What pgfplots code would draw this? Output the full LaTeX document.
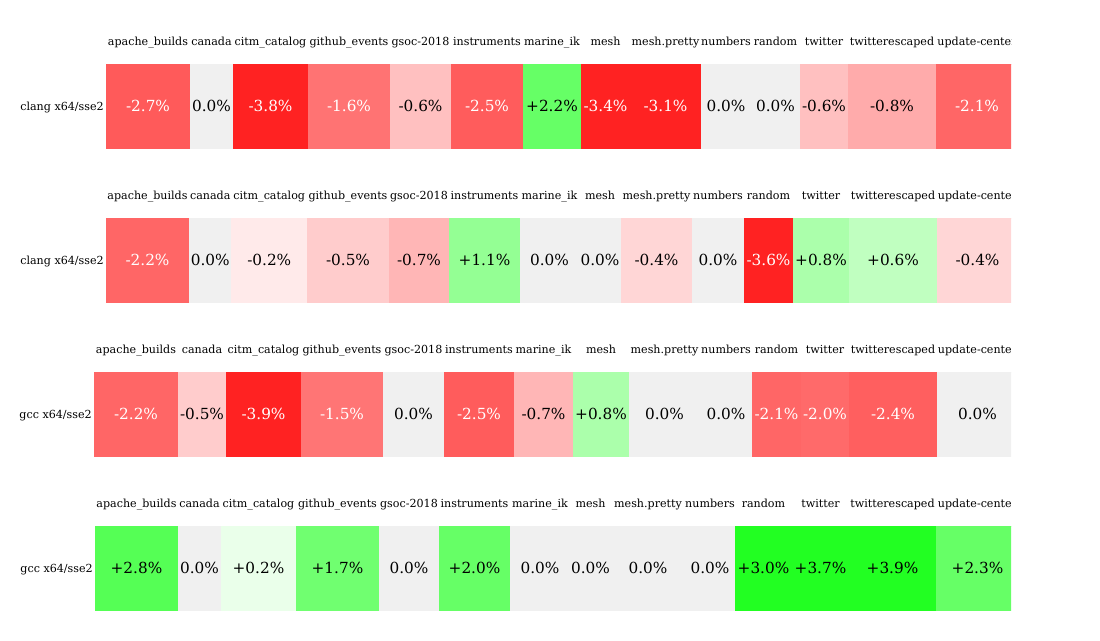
\documentclass[border=0pt]{standalone}
\usepackage{fontspec}
\setmainfont{DejaVu Serif}
\usepackage{pgfplots}
\pgfplotsset{compat=1.18}
\usetikzlibrary{calc}

% one cell: x0, x1, name, value, fill colour, text colour
\newcommand{\cell}[6]{%
  \addplot[fill={#5}, draw={#5}, line width=0.4pt] coordinates {(#1,64) (#2,64) (#2,148) (#1,148)} -- cycle;
  \node[lbl, anchor=base] at ($(axis cs:#1,45)!0.5!(axis cs:#2,45)$) {#3};
  \node[val, anchor=base, text=#6] at ($(axis cs:#1,111)!0.5!(axis cs:#2,111)$) {#4\%};
}
\newcommand{\rw}[5]{\cell{#1}{#2}{#3}{#4}{rgb,255:red,255;green,#5;blue,#5}{white}}
\newcommand{\rb}[5]{\cell{#1}{#2}{#3}{#4}{rgb,255:red,255;green,#5;blue,#5}{black}}
\newcommand{\gb}[5]{\cell{#1}{#2}{#3}{#4}{rgb,255:red,#5;green,255;blue,#5}{black}}
\newcommand{\zc}[4]{\cell{#1}{#2}{#3}{#4}{rgb,255:red,240;green,240;blue,240}{black}}

\pgfplotsset{
  heatrow/.style={scale only axis, width=792pt, height=110.88pt,
    xmin=0, xmax=1100, ymin=0, ymax=154, y dir=reverse,
    hide axis, anchor=north west, clip=true},
}
\tikzset{
  lbl/.style={font=\fontsize{8}{10}\selectfont, inner sep=0pt},
  val/.style={font=\fontsize{11}{13}\selectfont, inner sep=0pt},
}

\begin{document}
\begin{tikzpicture}
\path (0,0) rectangle (792pt,-460.8pt);
\begin{scope}
% the table is cut off at its right edge, as in the original
\clip (0,0) rectangle (727.92pt,-460.8pt);

\begin{axis}[heatrow, at={(0pt,0pt)}]
\node[lbl, anchor=base east] at (axis cs:104,110) {clang x64/sse2};
\rw{106}{190}{apache\_builds}{-2.7}{90}
\zc{190}{233}{canada}{0.0}
\rw{233}{308}{citm\_catalog}{-3.8}{34}
\rw{308}{390}{github\_events}{-1.6}{115}
\rb{390}{451}{gsoc-2018}{-0.6}{192}
\rw{451}{523}{instruments}{-2.5}{92}
\gb{523}{581}{marine\_ik}{+2.2}{102}
\rw{581}{630}{mesh}{-3.4}{34}
\rw{630}{701}{mesh.pretty}{-3.1}{34}
\zc{701}{751}{numbers}{0.0}
\zc{751}{800}{random}{0.0}
\rb{800}{848}{twitter}{-0.6}{192}
\rb{848}{936}{twitterescaped}{-0.8}{171}
\rw{936}{1018}{update-center}{-2.1}{102}
\end{axis}

\begin{axis}[heatrow, at={(0pt,-110.88pt)}]
\node[lbl, anchor=base east] at (axis cs:104,110) {clang x64/sse2};
\rw{106}{189}{apache\_builds}{-2.2}{102}
\zc{189}{231.5}{canada}{0.0}
\rb{231.5}{307}{citm\_catalog}{-0.2}{234}
\rb{307}{389}{github\_events}{-0.5}{204}
\rb{389}{449}{gsoc-2018}{-0.7}{182}
\gb{449}{520}{instruments}{+1.1}{148}
\zc{520}{579}{marine\_ik}{0.0}
\zc{579}{621}{mesh}{0.0}
\rb{621}{692}{mesh.pretty}{-0.4}{214}
\zc{692}{744}{numbers}{0.0}
\rw{744}{793}{random}{-3.6}{34}
\gb{793}{849}{twitter}{+0.8}{171}
\gb{849}{937}{twitterescaped}{+0.6}{192}
\rb{937}{1018}{update-center}{-0.4}{214}
\end{axis}

\begin{axis}[heatrow, at={(0pt,-221.76pt)}]
\node[lbl, anchor=base east] at (axis cs:92,110) {gcc x64/sse2};
\rw{94}{178}{apache\_builds}{-2.2}{102}
\rb{178}{226}{canada}{-0.5}{204}
\rw{226}{301}{citm\_catalog}{-3.9}{34}
\rw{301}{383}{github\_events}{-1.5}{117}
\zc{383}{444}{gsoc-2018}{0.0}
\rw{444}{514}{instruments}{-2.5}{92}
\rb{514}{573}{marine\_ik}{-0.7}{182}
\gb{573}{629}{mesh}{+0.8}{171}
\zc{629}{700}{mesh.pretty}{0.0}
\zc{700}{752}{numbers}{0.0}
\rw{752}{801}{random}{-2.1}{102}
\rw{801}{849}{twitter}{-2.0}{106}
\rw{849}{937}{twitterescaped}{-2.4}{95}
\zc{937}{1018}{update-center}{0.0}
\end{axis}

\begin{axis}[heatrow, at={(0pt,-332.64pt)}]
\node[lbl, anchor=base east] at (axis cs:93,110) {gcc x64/sse2};
\gb{95}{178}{apache\_builds}{+2.8}{85}
\zc{178}{221}{canada}{0.0}
\gb{221}{296}{citm\_catalog}{+0.2}{234}
\gb{296}{379}{github\_events}{+1.7}{112}
\zc{379}{439}{gsoc-2018}{0.0}
\gb{439}{510}{instruments}{+2.0}{102}
\zc{510}{570}{marine\_ik}{0.0}
\zc{570}{611}{mesh}{0.0}
\zc{611}{685}{mesh.pretty}{0.0}
\zc{685}{735}{numbers}{0.0}
\gb{735}{792}{random}{+3.0}{34}
\gb{792}{849}{twitter}{+3.7}{34}
\gb{849}{936}{twitterescaped}{+3.9}{34}
\gb{936}{1019}{update-center}{+2.3}{102}
\end{axis}
\end{scope}
\end{tikzpicture}
\end{document}
